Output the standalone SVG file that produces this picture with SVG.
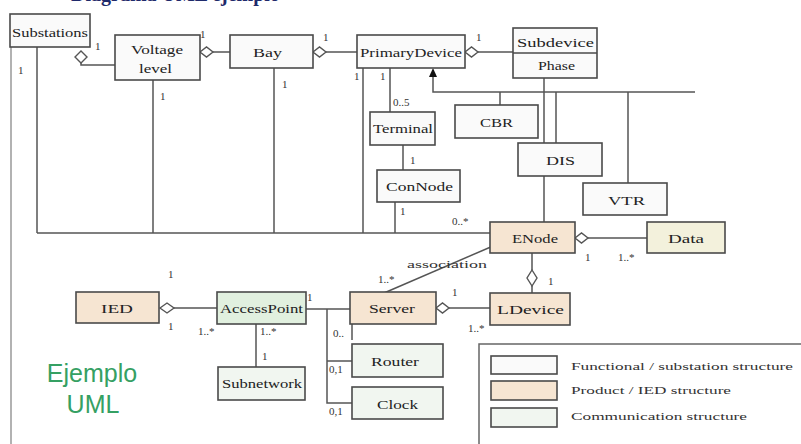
<svg xmlns="http://www.w3.org/2000/svg" width="801" height="444" viewBox="0 0 801 444">
  <defs>
    <style>
      .box { stroke: #4a4a4a; stroke-width: 1.6; }
      .fn { fill: #fafafa; }
      .pr { fill: #f6e5d2; }
      .dt { fill: #f3f1dc; }
      .ap { fill: #e1f0df; }
      .cm { fill: #f1f6f0; }
      .lbl { font-family: "Liberation Serif", serif; font-size: 12px; fill: #222; }
      .mul { font-family: "Liberation Serif", serif; font-size: 11px; fill: #333; }
      .leg { font-family: "Liberation Serif", serif; font-size: 11px; fill: #333; }
      .ln { fill: none; stroke: #555; stroke-width: 1.5; }
      .dia { fill: #fff; stroke: #555; stroke-width: 1.4; }
    </style>
  </defs>

  <rect width="801" height="444" fill="#fff"/>

  <!-- heading, cut at the top edge -->
  <text x="71" y="1" font-family="Liberation Serif, serif" font-size="20" font-weight="bold" fill="#1f2a6b">Diagrama UML ejemplo</text>

  <!-- frame line on the left -->
  <line x1="11" y1="14" x2="11" y2="444" stroke="#999" stroke-width="1.5"/>

  <!-- connectors -->
  <g id="connectors">
    <!-- shared bus at the bottom of the functional part -->
    <path class="ln" d="M37,47 V233 M153,80 V233 M274,68 V233 M363,68 V233 M395,202 V233 M37,233 H490"/>
    <!-- Substations to Voltage level -->
    <path class="ln" d="M81,63 V65 H115"/>
    <polygon class="dia" points="75,57 81,51 87,57 81,63"/>
    <!-- Voltage level to Bay -->
    <path class="ln" d="M213,52 H230"/>
    <polygon class="dia" points="200,52 206.5,47 213,52 206.5,57"/>
    <!-- Bay to PrimaryDevice -->
    <path class="ln" d="M326,52 H357"/>
    <polygon class="dia" points="313,52 319.5,47 326,52 319.5,57"/>
    <!-- PrimaryDevice to Subdevice -->
    <path class="ln" d="M478,52 H513"/>
    <polygon class="dia" points="465,52 471.5,47 478,52 471.5,57"/>
    <!-- PrimaryDevice to Terminal, Terminal to ConNode -->
    <path class="ln" d="M390,68 V112 M403,145 V170"/>
    <!-- generalisation tree -->
    <path class="ln" d="M433,76 V92 H695 M500,92 V105 M556,92 V143 M628,92 V183"/>
    <polygon points="433,68 429,77 437,77" fill="#111"/>
    <!-- Subdevice down to ENode -->
    <path class="ln" d="M544,78 V222"/>
    <!-- ENode to Data -->
    <path class="ln" d="M588,238 H647"/>
    <polygon class="dia" points="575,238 581.5,233 588,238 581.5,243"/>
    <!-- ENode to LDevice -->
    <path class="ln" d="M532,253 V270 M532,286 V293"/>
    <polygon class="dia" points="532,270 537,278 532,286 527,278"/>
    <!-- association ENode - Server -->
    <path class="ln" d="M493,246 L384,293"/>
    <!-- Server to LDevice -->
    <path class="ln" d="M449,308 H490"/>
    <polygon class="dia" points="436,308 442.5,303 449,308 442.5,313"/>
    <!-- IED to AccessPoint -->
    <path class="ln" d="M174,308 H217"/>
    <polygon class="dia" points="160,308 167,303 174,308 167,313"/>
    <!-- AccessPoint to Server, Router, Clock -->
    <path class="ln" d="M305,309 H350 M327,309 V403 H352 M327,361 H352 M352,324 V340"/>
    <!-- AccessPoint to Subnetwork -->
    <path class="ln" d="M256,324 V367"/>
  </g>

  <!-- multiplicities and role texts -->
  <g id="labels">
    <text class="mul" x="95" y="50">1</text>
    <text class="mul" x="18" y="74">1</text>
    <text class="mul" x="200" y="38">1</text>
    <text class="mul" x="160" y="100">1</text>
    <text class="mul" x="323" y="41">1</text>
    <text class="mul" x="282" y="88">1</text>
    <text class="mul" x="476" y="41">1</text>
    <text class="mul" x="354" y="80">1</text>
    <text class="mul" x="380" y="80">1</text>
    <text class="mul" x="393" y="106">0..5</text>
    <text class="mul" x="410" y="164">1</text>
    <text class="mul" x="400" y="215">1</text>
    <text class="mul" x="452" y="225">0..*</text>
    <text class="mul" x="585" y="261">1</text>
    <text class="mul" x="618" y="261">1..*</text>
    <text class="mul" x="548" y="285">1</text>
    <text class="mul" x="407" y="268" textLength="80" lengthAdjust="spacingAndGlyphs">association</text>
    <text class="mul" x="378" y="283">1..*</text>
    <text class="mul" x="452" y="296">1</text>
    <text class="mul" x="468" y="332">1..*</text>
    <text class="mul" x="168" y="278">1</text>
    <text class="mul" x="168" y="330">1</text>
    <text class="mul" x="198" y="335">1..*</text>
    <text class="mul" x="307" y="301">1</text>
    <text class="mul" x="260" y="335">1..*</text>
    <text class="mul" x="262" y="360">1</text>
    <text class="mul" x="333" y="337">0..</text>
    <text class="mul" x="329" y="373">0,1</text>
    <text class="mul" x="329" y="415">0,1</text>
  </g>

  <!-- nodes -->
  <g id="substations">
    <rect class="box fn" x="10" y="14" width="80" height="33"/>
    <text class="lbl" x="12" y="37" textLength="76" lengthAdjust="spacingAndGlyphs">Substations</text>
  </g>
  <g id="voltage-level">
    <rect class="box fn" x="115" y="35" width="85" height="45"/>
    <text class="lbl" x="131" y="54" textLength="52" lengthAdjust="spacingAndGlyphs">Voltage</text>
    <text class="lbl" x="139" y="73" textLength="33" lengthAdjust="spacingAndGlyphs">level</text>
  </g>
  <g id="bay">
    <rect class="box fn" x="230" y="35" width="83" height="33"/>
    <text class="lbl" x="253" y="57" textLength="29" lengthAdjust="spacingAndGlyphs">Bay</text>
  </g>
  <g id="primary-device">
    <rect class="box fn" x="357" y="35" width="108" height="33"/>
    <text class="lbl" x="360" y="57" textLength="102" lengthAdjust="spacingAndGlyphs">PrimaryDevice</text>
  </g>
  <g id="subdevice">
    <rect class="box fn" x="513" y="28" width="84" height="50"/>
    <line x1="513" y1="53" x2="597" y2="53" stroke="#4a4a4a" stroke-width="1.4"/>
    <text class="lbl" x="517" y="47" textLength="77" lengthAdjust="spacingAndGlyphs">Subdevice</text>
    <text class="lbl" x="538" y="70" textLength="37" lengthAdjust="spacingAndGlyphs">Phase</text>
  </g>
  <g id="terminal">
    <rect class="box fn" x="370" y="112" width="65" height="33"/>
    <text class="lbl" x="373" y="133" textLength="60" lengthAdjust="spacingAndGlyphs">Terminal</text>
  </g>
  <g id="connode">
    <rect class="box fn" x="377" y="170" width="83" height="32"/>
    <text class="lbl" x="386" y="191" textLength="67" lengthAdjust="spacingAndGlyphs">ConNode</text>
  </g>
  <g id="cbr">
    <rect class="box fn" x="455" y="105" width="83" height="33"/>
    <text class="lbl" x="480" y="127" textLength="33" lengthAdjust="spacingAndGlyphs">CBR</text>
  </g>
  <g id="dis">
    <rect class="box fn" x="518" y="143" width="84" height="33"/>
    <text class="lbl" x="546" y="165" textLength="29" lengthAdjust="spacingAndGlyphs">DIS</text>
  </g>
  <g id="vtr">
    <rect class="box fn" x="583" y="183" width="84" height="32"/>
    <text class="lbl" x="608" y="205" textLength="37" lengthAdjust="spacingAndGlyphs">VTR</text>
  </g>
  <g id="enode">
    <rect class="box pr" x="490" y="222" width="85" height="31"/>
    <text class="lbl" x="512" y="243" textLength="46" lengthAdjust="spacingAndGlyphs">ENode</text>
  </g>
  <g id="data">
    <rect class="box dt" x="647" y="222" width="78" height="31"/>
    <text class="lbl" x="668" y="243" textLength="36" lengthAdjust="spacingAndGlyphs">Data</text>
  </g>
  <g id="ied">
    <rect class="box pr" x="76" y="292" width="83" height="31"/>
    <text class="lbl" x="101" y="313" textLength="32" lengthAdjust="spacingAndGlyphs">IED</text>
  </g>
  <g id="access-point">
    <rect class="box ap" x="217" y="292" width="89" height="32"/>
    <text class="lbl" x="220" y="313" textLength="83" lengthAdjust="spacingAndGlyphs">AccessPoint</text>
  </g>
  <g id="server">
    <rect class="box pr" x="350" y="292" width="86" height="32"/>
    <text class="lbl" x="369" y="313" textLength="46" lengthAdjust="spacingAndGlyphs">Server</text>
  </g>
  <g id="ldevice">
    <rect class="box pr" x="490" y="293" width="80" height="32"/>
    <text class="lbl" x="497" y="314" textLength="67" lengthAdjust="spacingAndGlyphs">LDevice</text>
  </g>
  <g id="subnetwork">
    <rect class="box cm" x="218" y="367" width="87" height="33"/>
    <text class="lbl" x="222" y="388" textLength="80" lengthAdjust="spacingAndGlyphs">Subnetwork</text>
  </g>
  <g id="router">
    <rect class="box cm" x="352" y="344" width="91" height="33"/>
    <text class="lbl" x="371" y="366" textLength="48" lengthAdjust="spacingAndGlyphs">Router</text>
  </g>
  <g id="clock">
    <rect class="box cm" x="352" y="387" width="91" height="32"/>
    <text class="lbl" x="377" y="409" textLength="41" lengthAdjust="spacingAndGlyphs">Clock</text>
  </g>

  <!-- caption -->
  <g id="caption" font-family="Liberation Sans, Arial, sans-serif" font-size="25" fill="#35a063">
    <text x="92" y="382" text-anchor="middle">Ejemplo</text>
    <text x="93" y="413" text-anchor="middle">UML</text>
  </g>

  <!-- legend -->
  <g id="legend">
    <rect x="479" y="344" width="330" height="110" fill="#fff" stroke="#666" stroke-width="1.5"/>
    <rect class="box fn" x="491" y="356" width="66" height="18" fill="#eef3f5"/>
    <rect class="box pr" x="491" y="381" width="66" height="19"/>
    <rect class="box cm" x="491" y="408" width="66" height="19"/>
    <text class="leg" x="571" y="370" textLength="222" lengthAdjust="spacingAndGlyphs">Functional / substation structure</text>
    <text class="leg" x="571" y="394" textLength="160" lengthAdjust="spacingAndGlyphs">Product / IED structure</text>
    <text class="leg" x="571" y="420" textLength="176" lengthAdjust="spacingAndGlyphs">Communication structure</text>
  </g>
</svg>
